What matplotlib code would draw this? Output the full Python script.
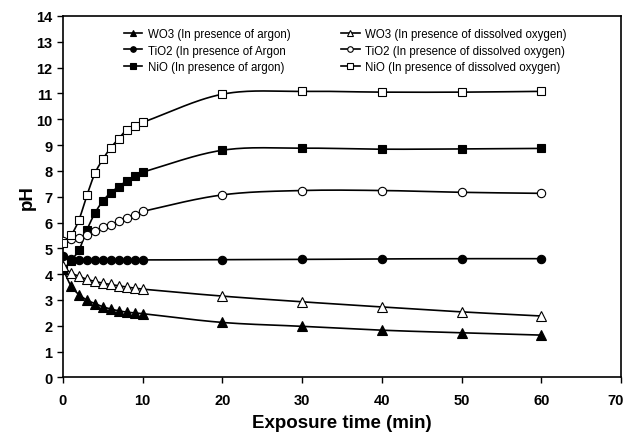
import numpy as np
import matplotlib.pyplot as plt
from matplotlib.lines import Line2D
from matplotlib.transforms import ScaledTranslation

plt.rcParams['font.family'] = ['Liberation Sans', 'DejaVu Sans']

time = [0, 1, 2, 3, 4, 5, 6, 7, 8, 9, 10, 20, 30, 40, 50, 60]

wo3_ar = [4.2, 3.55, 3.21, 3.0, 2.86, 2.74, 2.65, 2.58, 2.53, 2.5, 2.47, 2.13, 1.98, 1.83, 1.73, 1.64]
wo3_o2 = [4.3, 4.05, 3.92, 3.8, 3.72, 3.65, 3.6, 3.55, 3.5, 3.46, 3.42, 3.15, 2.93, 2.73, 2.54, 2.38]
tio2_ar = [4.7, 4.58, 4.55, 4.55, 4.55, 4.55, 4.55, 4.55, 4.55, 4.55, 4.55, 4.56, 4.57, 4.59, 4.6, 4.6]
tio2_o2 = [5.3, 5.35, 5.42, 5.5, 5.66, 5.83, 5.92, 6.05, 6.17, 6.3, 6.43, 7.07, 7.24, 7.24, 7.17, 7.13]
nio_ar = [4.15, 4.52, 4.93, 5.71, 6.36, 6.83, 7.16, 7.39, 7.62, 7.8, 7.95, 8.8, 8.88, 8.84, 8.85, 8.87]
nio_o2 = [5.2, 5.5, 6.1, 7.05, 7.9, 8.45, 8.9, 9.25, 9.6, 9.75, 9.88, 10.97, 11.08, 11.05, 11.05, 11.08]

labels = [
    "WO3 (In presence of argon)",
    "TiO2 (In presence of Argon",
    "NiO (In presence of argon)",
    "WO3 (In presence of dissolved oxygen)",
    "TiO2 (In presence of dissolved oxygen)",
    "NiO (In presence of dissolved oxygen)",
]


def smooth(x, y, per_seg=30):
    """Cubic Hermite curve through the points (finite-difference tangents)."""
    x = np.asarray(x, float)
    y = np.asarray(y, float)
    n = len(x)
    m = np.empty(n)
    m[0] = (y[1] - y[0]) / (x[1] - x[0])
    m[-1] = (y[-1] - y[-2]) / (x[-1] - x[-2])
    m[1:-1] = (y[2:] - y[:-2]) / (x[2:] - x[:-2])
    xs, ys = [], []
    t = np.linspace(0, 1, per_seg)
    for i in range(n - 1):
        h = x[i + 1] - x[i]
        h00 = 2 * t**3 - 3 * t**2 + 1
        h10 = t**3 - 2 * t**2 + t
        h01 = -2 * t**3 + 3 * t**2
        h11 = t**3 - t**2
        xs.append(x[i] + h * t)
        ys.append(h00 * y[i] + h10 * h * m[i] + h01 * y[i + 1] + h11 * h * m[i + 1])
    return np.concatenate(xs), np.concatenate(ys)


fig = plt.figure(figsize=(6.26, 4.35), dpi=100)
ax = fig.add_axes([0.1006, 0.130, 0.8914, 0.831])

series = [
    (wo3_ar, '^', 'black'),
    (tio2_ar, 'o', 'black'),
    (nio_ar, 's', 'black'),
    (wo3_o2, '^', 'white'),
    (tio2_o2, 'o', 'white'),
    (nio_o2, 's', 'white'),
]

handles = []
for (vals, mk, face), lab in zip(series, labels):
    sx, sy = smooth(time, vals)
    ax.plot(sx, sy, color='black', lw=1.2, zorder=2)
    ms = 6.5 if mk == '^' else 6
    ax.plot(time, vals, ls='none', marker=mk, ms=ms, mfc=face, mec='black',
            mew=0.8, zorder=3)
    handles.append(Line2D([], [], color='black', lw=1.2, marker=mk, ms=4,
                          mfc=face, mec='black', mew=0.8))

ax.set_xlim(0, 70)
ax.set_ylim(0, 14)
ax.set_xticks(range(0, 71, 10))
ax.set_yticks(range(0, 15))
ax.tick_params(direction='out', length=4, width=1, labelsize=10.5)
ax.tick_params(axis='x', pad=7)
for lbl in ax.get_xticklabels() + ax.get_yticklabels():
    lbl.set_fontweight('bold')
# keep the last x label inside the figure
last = ax.get_xticklabels()[-1]
last.set_transform(last.get_transform() + ScaledTranslation(-5 / 100, 0, fig.dpi_scale_trans))
for sp in ax.spines.values():
    sp.set_linewidth(1.2)

ax.set_xlabel("Exposure time (min)", fontsize=13.5, fontweight='bold', labelpad=5)
ax.set_ylabel("pH", fontsize=13.5, fontweight='bold', labelpad=0)

ax.legend(handles, labels, ncol=2, loc='upper left', bbox_to_anchor=(0.09, 0.995),
          frameon=False, fontsize=8.3, handlelength=1.6, handletextpad=0.5,
          columnspacing=4.4, labelspacing=0.38)

fig.savefig("out.png", dpi=100)
